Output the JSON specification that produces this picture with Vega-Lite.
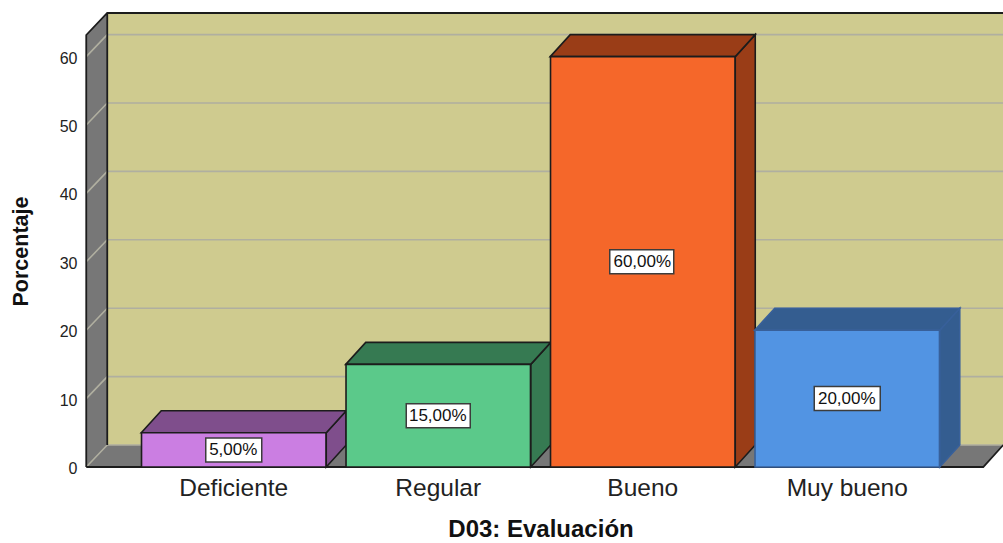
{
"$schema":"https://vega.github.io/schema/vega-lite/v6.json",
"width":897,"height":432,
"autosize":{"type":"none"},
"padding":{"left":86,"top":35,"right":20,"bottom":76},
"background":"white",
"view":{"stroke":null},
"config":{"font":"Liberation Sans"},
"datasets":{
"barras":[
{"categoria":"Deficiente","porcentaje":5,"centro":2.5,"etiqueta":"5,00%"},
{"categoria":"Regular","porcentaje":15,"centro":7.5,"etiqueta":"15,00%"},
{"categoria":"Bueno","porcentaje":60,"centro":30,"etiqueta":"60,00%"},
{"categoria":"Muy bueno","porcentaje":20,"centro":10,"etiqueta":"20,00%"}],
"marcas":[{"tick":0},{"tick":10},{"tick":20},{"tick":30},{"tick":40},{"tick":50},{"tick":60}],
"uno":[{"parte":"marco"}]
},
"layer":[
{"data":{"name":"uno"},
 "mark":{"type":"point","filled":true,"opacity":1,"size":4,"fill":"#CFCB8F","strokeWidth":0,"shape":"M-126.5,-454L775,-454L775,-22L-126.5,-22Z"},
 "encoding":{"x":{"datum":"Deficiente","type":"nominal","axis":null},"y":{"datum":0,"type":"quantitative","axis":null}}},
{"data":{"name":"uno"},
 "mark":{"type":"point","filled":true,"opacity":1,"size":4,"fill":"#777777","strokeWidth":0,"shape":"M-147.5,-432L-126.5,-454L-126.5,-22L-147.5,0ZM-147.5,0L-126.5,-22L769.5,-22L749.5,0Z"},
 "encoding":{"x":{"datum":"Deficiente","type":"nominal","axis":null},"y":{"datum":0,"type":"quantitative","axis":null}}},
{"data":{"name":"marcas"},
 "mark":{"type":"point","filled":false,"opacity":1,"size":4,"stroke":"#B0AFA0","strokeWidth":1.6,"shape":"M-147.5,0L-126.5,-22L775,-22"},
 "encoding":{"x":{"datum":"Deficiente","type":"nominal","axis":null},"y":{"field":"tick","type":"quantitative","axis":null}}},
{"data":{"name":"uno"},
 "mark":{"type":"point","filled":false,"opacity":1,"size":4,"stroke":"#1c1c1c","strokeWidth":1.8,"shape":"M-147.5,0L-147.5,-432L-126.5,-454L775,-454M-126.5,-454L-126.5,-22M-147.5,0L749.5,0L769.5,-22"},
 "encoding":{"x":{"datum":"Deficiente","type":"nominal","axis":null},"y":{"datum":0,"type":"quantitative","axis":null}}},
{"data":{"name":"barras"},
 "mark":{"type":"point","filled":true,"opacity":1,"size":4,"strokeWidth":1.6},
 "encoding":{"x":{"field":"categoria","type":"nominal","axis":null},"y":{"field":"porcentaje","type":"quantitative","axis":null},
  "shape":{"field":"categoria","type":"nominal","legend":null,"scale":{"domain":["Deficiente","Regular","Bueno","Muy bueno"],"range":["M92.5,0L112.5,-22L112.5,12.2L92.5,34.2Z","M92.5,0L112.5,-22L112.5,80.6L92.5,102.6Z","M92.5,0L112.5,-22L112.5,388.4L92.5,410.4Z","M92.5,0L112.5,-22L112.5,114.8L92.5,136.8Z"]}},
  "fill":{"field":"categoria","type":"nominal","legend":null,"scale":{"domain":["Deficiente","Regular","Bueno","Muy bueno"],"range":["#7F4E8C","#367A52","#9A3D17","#345D90"]}},
  "stroke":{"field":"categoria","type":"nominal","legend":null,"scale":{"domain":["Deficiente","Regular","Bueno","Muy bueno"],"range":["#1c1c1c","#1c1c1c","#1c1c1c","#38609a"]}}}},
{"data":{"name":"barras"},
 "mark":{"type":"point","filled":true,"opacity":1,"size":4,"strokeWidth":1.6,"shape":"M-92.5,0L-72.5,-22L112.5,-22L92.5,0Z"},
 "encoding":{"x":{"field":"categoria","type":"nominal","axis":null},"y":{"field":"porcentaje","type":"quantitative","axis":null},
  "fill":{"field":"categoria","type":"nominal","legend":null,"scale":{"domain":["Deficiente","Regular","Bueno","Muy bueno"],"range":["#7F4E8C","#367A52","#9A3D17","#345D90"]}},
  "stroke":{"field":"categoria","type":"nominal","legend":null,"scale":{"domain":["Deficiente","Regular","Bueno","Muy bueno"],"range":["#1c1c1c","#1c1c1c","#1c1c1c","#38609a"]}}}},
{"data":{"name":"barras"},
 "mark":{"type":"bar","strokeWidth":1.6,"opacity":1},
 "encoding":{
  "x":{"field":"categoria","type":"nominal","sort":["Deficiente","Regular","Bueno","Muy bueno"],
   "scale":{"type":"band","domain":["Deficiente","Regular","Bueno","Muy bueno"],"range":[45.5,863.5],"paddingInner":0.098,"paddingOuter":0.049},
   "axis":{"title":"D03: Evaluación","labelAngle":0,"labelFontSize":24.5,"labelColor":"#222222","labelPadding":9,"ticks":false,"tickSize":0,"domain":false,"titleFontSize":24,"titleFontWeight":"bold","titleColor":"#111111","titlePadding":18,"titleFont":"Liberation Sans","labelFont":"Liberation Sans"}},
  "y":{"field":"porcentaje","type":"quantitative",
   "scale":{"domain":[0,63.16],"nice":false,"zero":true},
   "axis":{"title":"Porcentaje","values":[0,10,20,30,40,50,60],"labelFontSize":16,"labelColor":"#222222","labelPadding":9,"labelOffset":1.5,"ticks":false,"tickSize":0,"domain":false,"grid":false,"titleFontSize":21.5,"titleFontWeight":"bold","titleColor":"#111111","titlePadding":27,"titleFont":"Liberation Sans","labelFont":"Liberation Sans"}},
  "fill":{"field":"categoria","type":"nominal","legend":null,"scale":{"domain":["Deficiente","Regular","Bueno","Muy bueno"],"range":["#CB7EE2","#5BC98A","#F5672A","#5294E3"]}},
  "stroke":{"field":"categoria","type":"nominal","legend":null,"scale":{"domain":["Deficiente","Regular","Bueno","Muy bueno"],"range":["#1c1c1c","#1c1c1c","#1c1c1c","#38609a"]}}}},
{"data":{"name":"barras"},
 "mark":{"type":"point","filled":true,"opacity":1,"size":4,"fill":"white","stroke":"#3c3c3c","strokeWidth":1.5},
 "encoding":{"x":{"field":"categoria","type":"nominal","axis":null},"y":{"field":"centro","type":"quantitative","axis":null},
  "shape":{"field":"categoria","type":"nominal","legend":null,"scale":{"domain":["Deficiente","Regular","Bueno","Muy bueno"],"range":["M-28,-12L28,-12L28,12L-28,12Z","M-32,-12L32,-12L32,12L-32,12Z","M-33,-12L31,-12L31,12L-33,12Z","M-33,-12L33,-12L33,12L-33,12Z"]}}}},
{"data":{"name":"barras"},
 "mark":{"type":"text","fontSize":17,"color":"#111111","font":"Liberation Sans","baseline":"middle","align":"center","dx":-0.5},
 "encoding":{"x":{"field":"categoria","type":"nominal","axis":null},"y":{"field":"centro","type":"quantitative","axis":null},"text":{"field":"etiqueta"}}}
],
"resolve":{"scale":{"fill":"independent","shape":"independent"},"axis":{"x":"independent","y":"independent"}}
}
